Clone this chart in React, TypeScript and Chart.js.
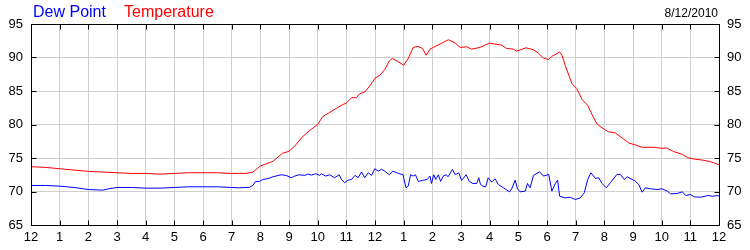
import React, { useEffect, useRef } from "react";
import { Chart, registerables } from "chart.js";

Chart.register(...registerables);

const dateLabel = "8/12/2010";
const dewLabel = "Dew Point";
const tempLabel = "Temperature";

const yMin = 65;
const yMax = 95;
const yStep = 5;
const xMin = 0;
const xMax = 24;

const tempHours = [
  0, 0.5, 1.0, 1.5, 2.0, 2.5, 3.0, 3.5, 4.0, 4.5, 5.0, 5.5, 6.0, 6.5, 7.0, 7.27, 7.5, 7.74,
  8.0, 8.44, 8.77, 9.0, 9.25, 9.43, 9.72, 10.0, 10.18, 10.42, 10.65, 10.89, 11.0, 11.18, 11.35,
  11.47, 11.64, 11.82, 12.0, 12.17, 12.34, 12.5, 12.6, 12.8, 13.0, 13.16, 13.33, 13.5, 13.66,
  13.78, 13.92, 14.03, 14.27, 14.56, 14.8, 14.97, 15.2, 15.37, 15.66, 16.0, 16.19, 16.42, 16.59,
  16.83, 16.94, 17.27, 17.53, 17.7, 17.88, 18.05, 18.2, 18.34, 18.44, 18.52, 18.64, 18.87, 19.04,
  19.22, 19.42, 19.57, 19.74, 19.92, 20.15, 20.38, 20.62, 20.85, 21.08, 21.32, 21.72, 22.0, 22.18,
  22.42, 22.72, 22.91, 23.18, 23.41, 23.71, 24.0,
];
const tempValues = [
  73.7, 73.6, 73.4, 73.2, 73.0, 72.9, 72.8, 72.7, 72.7, 72.6, 72.7, 72.8, 72.8, 72.8, 72.7, 72.7, 72.7, 72.9,
  73.8, 74.5, 75.7, 76.0, 77.0, 78.0, 79.1, 80.0, 81.2, 81.8, 82.4, 83.0, 83.2, 84.0, 84.0,
  84.6, 84.85, 85.75, 86.9, 87.35, 88.2, 89.5, 89.85, 89.4, 88.85, 89.85, 91.5, 91.65, 91.35,
  90.35, 91.25, 91.5, 92.0, 92.65, 92.15, 91.5, 91.6, 91.25, 91.5, 92.15, 92.0, 91.85, 91.35,
  91.25, 90.95, 91.45, 91.15, 90.65, 89.9, 89.7, 90.25, 90.55, 90.85, 90.35, 88.75, 86.1, 85.35,
  83.75, 82.85, 81.5, 80.1, 79.5, 78.9, 78.75, 78.0, 77.25, 76.95, 76.6, 76.6, 76.45, 76.5,
  75.95, 75.55, 75.05, 74.8, 74.7, 74.45, 74.0,
];

const dewHours = [
  0, 0.5, 1.0, 1.5, 2.0, 2.5, 2.7, 3.0, 3.5, 4.0, 4.5, 5.0, 5.5, 6.0, 6.5, 7.0, 7.27, 7.62, 7.74,
  7.83, 7.97, 8.09, 8.26, 8.44, 8.73, 8.9, 9.08, 9.2, 9.35, 9.55, 9.66, 9.78, 9.93, 10.07, 10.13,
  10.28, 10.42, 10.59, 10.75, 10.83, 10.94, 11.06, 11.18, 11.3, 11.41, 11.53, 11.64, 11.76, 11.88,
  11.99, 12.11, 12.23, 12.34, 12.5, 12.62, 12.76, 12.85, 12.98, 13.08, 13.16, 13.24, 13.33, 13.41,
  13.51, 13.66, 13.82, 13.92, 13.97, 14.05, 14.12, 14.21, 14.29, 14.38, 14.48, 14.55, 14.7, 14.8,
  14.92, 15.02, 15.18, 15.29, 15.41, 15.55, 15.62, 15.68, 15.76, 15.86, 15.95, 16.07, 16.19, 16.3,
  16.48, 16.69, 16.77, 16.89, 16.97, 17.06, 17.24, 17.32, 17.41, 17.53, 17.74, 17.88, 18.06, 18.17,
  18.29, 18.37, 18.44, 18.64, 18.81, 18.99, 19.16, 19.3, 19.42, 19.53, 19.69, 19.8, 19.92, 20.07,
  20.21, 20.44, 20.56, 20.7, 20.79, 20.97, 21.08, 21.2, 21.32, 21.43, 21.61, 21.84, 22.02, 22.2,
  22.31, 22.54, 22.72, 22.84, 23.0, 23.14, 23.37, 23.61, 23.78, 23.96, 24.0,
];
const dewValues = [
  70.9, 70.9, 70.8, 70.6, 70.3, 70.2, 70.4, 70.6, 70.6, 70.5, 70.5, 70.6, 70.7, 70.7, 70.7, 70.6, 70.55, 70.63, 70.9,
  71.5, 71.5, 71.8, 71.9, 72.2, 72.5, 72.4, 72.05, 72.3, 72.5, 72.4, 72.6, 72.45, 72.65, 72.4, 72.65,
  72.3, 72.5, 72.05, 72.5, 71.8, 71.3, 71.7, 71.8, 72.4, 72.05, 72.9, 72.05, 72.8, 72.4,
  73.4, 73.05, 73.3, 73.05, 72.5, 73.05, 72.8, 72.65, 72.5, 70.55, 70.8, 72.5, 72.3, 72.5,
  71.5, 71.65, 71.8, 72.3, 71.2, 72.5, 71.8, 72.5, 71.5, 72.3, 72.5, 72.2, 73.3, 72.5,
  72.8, 71.65, 72.5, 71.5, 71.2, 71.2, 72.05, 71.05, 70.8, 70.7, 72.05, 71.4, 71.9, 71.05,
  70.55, 69.95, 70.4, 71.7, 70.4, 69.95, 70.05, 71.2, 70.55, 72.4, 72.95, 72.3, 72.55, 70.05,
  71.2, 71.7, 69.3, 69.05, 69.15, 68.8, 69.05, 69.8, 71.8, 72.8, 71.95, 72.05, 71.2, 70.55,
  71.3, 72.55, 72.55, 71.8, 72.2, 71.8, 71.55, 71.05, 69.9, 70.55, 70.4, 70.3, 70.4, 70.05,
  69.65, 69.7, 69.95, 69.4, 69.55, 69.2, 69.15, 69.4, 69.3, 69.4, 69.3,
];

const FONT = '"Liberation Sans", Arial, sans-serif';

function hourLabel(h: number): string {
  const r = h % 12;
  return String(r === 0 ? 12 : r);
}

const framePlugin = {
  id: "frameAndTitle",
  afterDraw(chart: any) {
    const { ctx, chartArea } = chart;
    const xs = chart.scales.x;
    const ys = chart.scales.y;
    const L = Math.round(chartArea.left) + 0.5;
    const R = Math.round(chartArea.right) + 0.5;
    const T = Math.round(chartArea.top) + 0.5;
    const B = Math.round(chartArea.bottom) + 0.5;
    ctx.save();
    ctx.strokeStyle = "#000";
    ctx.lineWidth = 1;
    ctx.beginPath();
    ctx.rect(L, T, R - L, B - T);
    ctx.stroke();
    const tick = 5;
    ctx.beginPath();
    for (let h = xMin; h <= xMax; h++) {
      const px = Math.round(xs.getPixelForValue(h)) + 0.5;
      ctx.moveTo(px, T);
      ctx.lineTo(px, T + tick);
      ctx.moveTo(px, B);
      ctx.lineTo(px, B - tick);
    }
    for (let v = yMin; v <= yMax; v += yStep) {
      const py = Math.round(ys.getPixelForValue(v)) + 0.5;
      ctx.moveTo(L, py);
      ctx.lineTo(L + tick, py);
      ctx.moveTo(R, py);
      ctx.lineTo(R - tick, py);
    }
    ctx.stroke();

    ctx.textBaseline = "alphabetic";
    ctx.font = `16px ${FONT}`;
    ctx.textAlign = "left";
    ctx.fillStyle = "#0000ff";
    ctx.fillText(dewLabel, 33, 17);
    ctx.fillStyle = "#ff0000";
    ctx.fillText(tempLabel, 124, 17);
    ctx.font = `12px ${FONT}`;
    ctx.fillStyle = "#000";
    ctx.textAlign = "right";
    ctx.fillText(dateLabel, 718, 17);
    ctx.restore();
  },
};

export default function App() {
  const canvasRef = useRef<HTMLCanvasElement | null>(null);

  useEffect(() => {
    document.body.style.margin = "0";
    const canvas = canvasRef.current;
    if (!canvas) return;
    const tempData = tempHours.map((h, i) => ({ x: h, y: tempValues[i] }));
    const dewData = dewHours.map((h, i) => ({ x: h, y: dewValues[i] }));
    const tickFont = { family: FONT, size: 13 };
    const chart = new Chart(canvas, {
      type: "line",
      data: {
        datasets: [
          {
            label: tempLabel,
            data: tempData,
            borderColor: "#ff0000",
            borderWidth: 1,
            pointRadius: 0,
            tension: 0,
            fill: false,
          },
          {
            label: dewLabel,
            data: dewData,
            borderColor: "#0000ff",
            borderWidth: 1,
            pointRadius: 0,
            tension: 0,
            fill: false,
          },
        ],
      },
      options: {
        animation: false,
        responsive: true,
        maintainAspectRatio: false,
        layout: { padding: { top: 24, left: 0, right: 0, bottom: 0 } },
        plugins: {
          legend: { display: false },
          tooltip: { enabled: false },
          title: { display: false },
        },
        scales: {
          x: {
            type: "linear",
            min: xMin,
            max: xMax,
            afterFit: (s: any) => {
              s.height = 25;
            },
            ticks: {
              stepSize: 1,
              autoSkip: false,
              maxRotation: 0,
              padding: 5,
              color: "#000",
              font: tickFont,
              callback: (v: any) => hourLabel(Number(v)),
            },
            grid: { color: "#d0d0d0", lineWidth: 1, drawTicks: false },
            border: { display: false },
          },
          y: {
            type: "linear",
            position: "left",
            min: yMin,
            max: yMax,
            afterFit: (s: any) => {
              s.width = 31;
            },
            ticks: { stepSize: yStep, padding: 8, color: "#000", font: tickFont },
            grid: { color: "#d0d0d0", lineWidth: 1, drawTicks: false },
            border: { display: false },
          },
          y2: {
            type: "linear",
            position: "right",
            min: yMin,
            max: yMax,
            afterFit: (s: any) => {
              s.width = 31;
            },
            ticks: { stepSize: yStep, padding: 8, color: "#000", font: tickFont },
            grid: { drawOnChartArea: false, drawTicks: false },
            border: { display: false },
          },
        },
      },
      plugins: [framePlugin],
    } as any);
    return () => chart.destroy();
  }, []);

  return (
    <div style={{ position: "fixed", left: 0, top: 0, width: 750, height: 250, background: "#fff" }}>
      <canvas ref={canvasRef} />
    </div>
  );
}
